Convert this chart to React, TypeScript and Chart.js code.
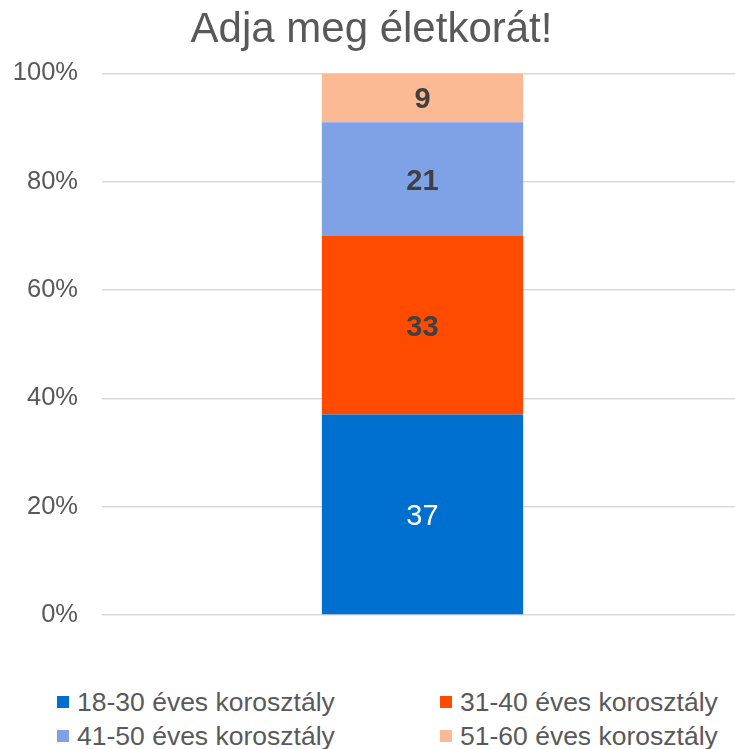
import React, { useEffect, useRef } from "react";
import { Chart, registerables } from "chart.js";

Chart.register(...registerables);

const TITLE = "Adja meg életkorát!";
const categories = [""];
const seriesNames = [
  "18-30 éves korosztály",
  "31-40 éves korosztály",
  "41-50 éves korosztály",
  "51-60 éves korosztály",
];
const seriesValues = [37, 33, 21, 9];
const seriesColors = ["#0070D0", "#FF4B00", "#7FA1E6", "#FBB994"];
const labelColors = ["#FFFFFF", "#404040", "#404040", "#404040"];
const labelBold = [false, true, true, true];
const yTicks = [0, 20, 40, 60, 80, 100];

const FONT = "'Liberation Sans', Arial, sans-serif";

const dataLabelPlugin = {
  id: "dataLabels",
  afterDatasetsDraw(chart: any) {
    const ctx = chart.ctx;
    chart.data.datasets.forEach((ds: any, i: number) => {
      const meta = chart.getDatasetMeta(i);
      meta.data.forEach((bar: any, j: number) => {
        const props = bar.getProps(["x", "y", "base"], true);
        const cy = (props.y + props.base) / 2 + 2.5;
        ctx.save();
        ctx.fillStyle = labelColors[i];
        ctx.font = `${labelBold[i] ? "bold " : ""}29px ${FONT}`;
        ctx.textAlign = "center";
        ctx.textBaseline = "middle";
        ctx.fillText(String(ds.raw ? ds.raw[j] : seriesValues[i]), props.x, cy);
        ctx.restore();
      });
    });
  },
};

export default function App() {
  const ref = useRef<HTMLCanvasElement | null>(null);

  useEffect(() => {
    document.body.style.margin = "0";
    document.body.style.overflow = "hidden";
    const total = seriesValues.reduce((a, b) => a + b, 0);
    const chart = new Chart(ref.current!, {
      type: "bar",
      data: {
        labels: categories,
        datasets: seriesNames.map((name, i) => ({
          label: name,
          data: [(seriesValues[i] / total) * 100],
          raw: [seriesValues[i]],
          backgroundColor: seriesColors[i],
          borderWidth: 0,
          barPercentage: 0.314,
          categoryPercentage: 1,
        })) as any,
      },
      options: {
        animation: false,
        responsive: false,
        maintainAspectRatio: false,
        layout: { padding: { left: 0, right: 12, top: 0, bottom: 45 } },
        plugins: {
          legend: { display: false },
          tooltip: { enabled: false },
          title: {
            display: true,
            text: TITLE,
            color: "#595959",
            font: { family: FONT, size: 42, weight: "normal" },
            padding: { top: 5, bottom: 18 },
          },
        },
        scales: {
          x: {
            stacked: true,
            display: false,
          },
          y: {
            stacked: true,
            min: 0,
            max: 100,
            afterBuildTicks: (scale: any) => {
              scale.ticks = yTicks.map((v) => ({ value: v }));
            },
            afterFit: (scale: any) => {
              scale.width = 102;
            },
            border: { display: false },
            grid: { color: "#D9D9D9", lineWidth: 1.5, drawTicks: false },
            ticks: {
              color: "#595959",
              font: { family: FONT, size: 25.5 },
              padding: 24,
              callback: (v: any) => `${v}%`,
            },
          },
        },
      },
      plugins: [dataLabelPlugin],
    });
    return () => chart.destroy();
  }, []);

  const legendPos = [
    { left: 57, top: 702 },
    { left: 440, top: 702 },
    { left: 57, top: 736 },
    { left: 440, top: 736 },
  ];

  return (
    <div style={{ position: "relative", width: 755, height: 749, overflow: "hidden" }}>
      <canvas ref={ref} width={755} height={660} style={{ position: "absolute", left: 0, top: 0, width: 755, height: 660 }} />
      {seriesNames.map((name, i) => (
        <div
          key={name}
          style={{
            position: "absolute",
            left: legendPos[i].left,
            top: legendPos[i].top - 15,
            height: 30,
            display: "flex",
            alignItems: "center",
            fontFamily: FONT,
            fontSize: 26.5,
            color: "#595959",
            whiteSpace: "nowrap",
          }}
        >
          <span style={{ display: "inline-block", width: 12, height: 12, background: seriesColors[i], marginRight: 8 }} />
          <span>{name}</span>
        </div>
      ))}
    </div>
  );
}
